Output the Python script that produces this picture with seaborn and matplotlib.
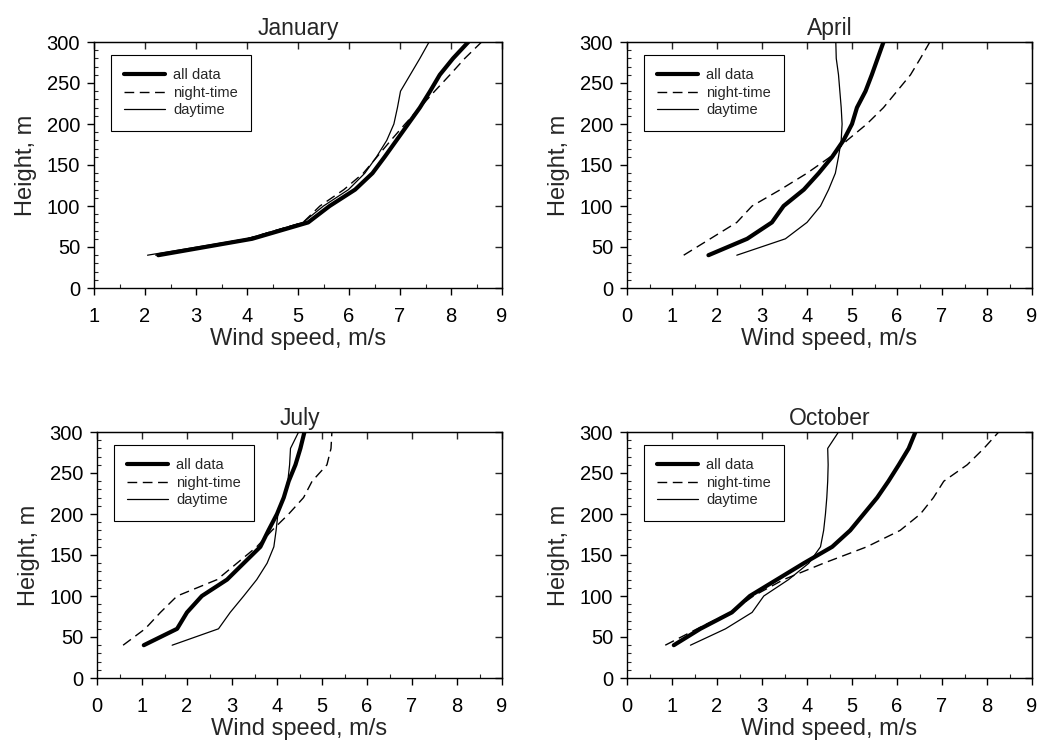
import numpy as np
import pandas as pd
import matplotlib
matplotlib.use("Agg")
import matplotlib.pyplot as plt
import seaborn as sns
from matplotlib.ticker import MultipleLocator, NullLocator

heights = [40, 60, 80, 100, 120, 140, 160, 180, 200, 220, 240, 260, 280, 300]

jan_all   = [2.26, 4.10, 5.20, 5.62, 6.12, 6.46, 6.70, 6.93, 7.16, 7.39, 7.59, 7.78, 8.04, 8.34]
jan_night = [2.20, 4.00, 5.10, 5.43, 5.90, 6.28, 6.55, 6.82, 7.10, 7.39, 7.68, 7.98, 8.27, 8.60]
jan_day   = [2.05, 4.00, 5.10, 5.50, 5.99, 6.31, 6.54, 6.74, 6.88, 6.95, 7.01, 7.20, 7.39, 7.57]

apr_all   = [1.81, 2.67, 3.22, 3.48, 3.93, 4.26, 4.56, 4.81, 5.00, 5.11, 5.30, 5.44, 5.57, 5.70]
apr_night = [1.26, 1.85, 2.44, 2.78, 3.41, 4.00, 4.52, 4.89, 5.33, 5.70, 6.00, 6.30, 6.52, 6.73]
apr_day   = [2.44, 3.52, 4.00, 4.30, 4.48, 4.63, 4.70, 4.76, 4.78, 4.76, 4.73, 4.70, 4.65, 4.64]

jul_all   = [1.04, 1.78, 2.00, 2.33, 2.89, 3.26, 3.63, 3.81, 4.00, 4.15, 4.26, 4.41, 4.52, 4.61]
jul_night = [0.58, 1.07, 1.41, 1.78, 2.67, 3.11, 3.55, 3.89, 4.26, 4.59, 4.78, 5.11, 5.20, 5.22]
jul_day   = [1.67, 2.70, 2.96, 3.26, 3.55, 3.78, 3.93, 3.98, 4.02, 4.15, 4.24, 4.28, 4.30, 4.48]

oct_all   = [1.04, 1.63, 2.33, 2.73, 3.33, 3.93, 4.56, 4.96, 5.26, 5.56, 5.81, 6.04, 6.26, 6.41]
oct_night = [0.85, 1.56, 2.30, 2.81, 3.48, 4.37, 5.33, 6.07, 6.52, 6.81, 7.04, 7.56, 7.93, 8.26]
oct_day   = [1.41, 2.19, 2.78, 3.04, 3.59, 4.04, 4.30, 4.37, 4.41, 4.44, 4.46, 4.47, 4.46, 4.70]

months = ["January", "April", "July", "October"]
series_names = ["all data", "night-time", "daytime"]
data = {
    "January": [jan_all, jan_night, jan_day],
    "April": [apr_all, apr_night, apr_day],
    "July": [jul_all, jul_night, jul_day],
    "October": [oct_all, oct_night, oct_day],
}
xlims = {"January": (1, 9), "April": (0, 9), "July": (0, 9), "October": (0, 9)}

sns.set_style("ticks")
plt.rcParams["font.family"] = ["Liberation Sans", "DejaVu Sans"]

W, H = 1040, 744
fig = plt.figure(figsize=(W / 100, H / 100), dpi=100)

# axes boxes in pixels: left, right, top, bottom
boxes = {
    "January": (94, 502, 42, 288),
    "April": (627, 1032, 42, 288),
    "July": (97, 502, 432, 678),
    "October": (627, 1032, 432, 678),
}

styles = {
    "all data": dict(lw=3.0, ls="-"),
    "night-time": dict(lw=1.0, ls=(0, (7, 4))),
    "daytime": dict(lw=0.9, ls="-"),
}

for m in months:
    l, r, t, b = boxes[m]
    ax = fig.add_axes([l / W, 1 - b / H, (r - l) / W, (b - t) / H])
    rows = []
    for name, vals in zip(series_names, data[m]):
        for h, v in zip(heights, vals):
            rows.append({"speed": v, "height": h, "series": name})
    df = pd.DataFrame(rows)
    for name in series_names:
        sub = df[df["series"] == name]
        sns.lineplot(data=sub, x="speed", y="height", sort=False, estimator=None,
                     color="black", ax=ax, label=name,
                     linewidth=styles[name]["lw"], linestyle=styles[name]["ls"])
    ax.set_xlim(*xlims[m])
    ax.set_ylim(0, 300)
    ax.xaxis.set_major_locator(MultipleLocator(1))
    ax.xaxis.set_minor_locator(MultipleLocator(0.5))
    ax.yaxis.set_major_locator(MultipleLocator(50))
    ax.yaxis.set_minor_locator(MultipleLocator(10))
    ax.tick_params(axis="both", which="major", direction="out", length=5, width=1,
                   labelsize=14.5, colors="black", top=False, right=False)
    ax.tick_params(axis="x", which="major", pad=9)
    ax.tick_params(axis="y", which="major", pad=5)
    ax.tick_params(axis="both", which="minor", direction="in", length=3, width=0.8,
                   top=False, right=False)
    for side in ["top", "right", "left", "bottom"]:
        ax.spines[side].set_visible(True)
        ax.spines[side].set_linewidth(1.0)
        ax.spines[side].set_color("black")
    # inward major ticks on top and right
    secx = ax.secondary_xaxis("top")
    secx.xaxis.set_major_locator(MultipleLocator(1))
    secx.xaxis.set_minor_locator(NullLocator())
    secx.tick_params(direction="in", length=5, width=1, labeltop=False)
    secy = ax.secondary_yaxis("right")
    secy.yaxis.set_major_locator(MultipleLocator(50))
    secy.yaxis.set_minor_locator(NullLocator())
    secy.tick_params(direction="in", length=5, width=1, labelright=False)

    ax.set_xlabel("Wind speed, m/s", fontsize=17, labelpad=1)
    ax.set_ylabel("Height, m", fontsize=17, labelpad=7)
    ax.set_title(m, fontsize=16.5, pad=5)
    leg = ax.legend(loc="upper left", bbox_to_anchor=(0.042, 0.947), frameon=True,
                    fancybox=False, edgecolor="black", fontsize=10.5,
                    handlelength=2.8, handletextpad=0.55, labelspacing=0.25,
                    borderpad=0.9, borderaxespad=0)
    leg.get_frame().set_linewidth(0.8)
    leg.get_frame().set_facecolor("white")
    leg.get_frame().set_alpha(1)

fig.savefig("out.png", dpi=100, facecolor="white")
